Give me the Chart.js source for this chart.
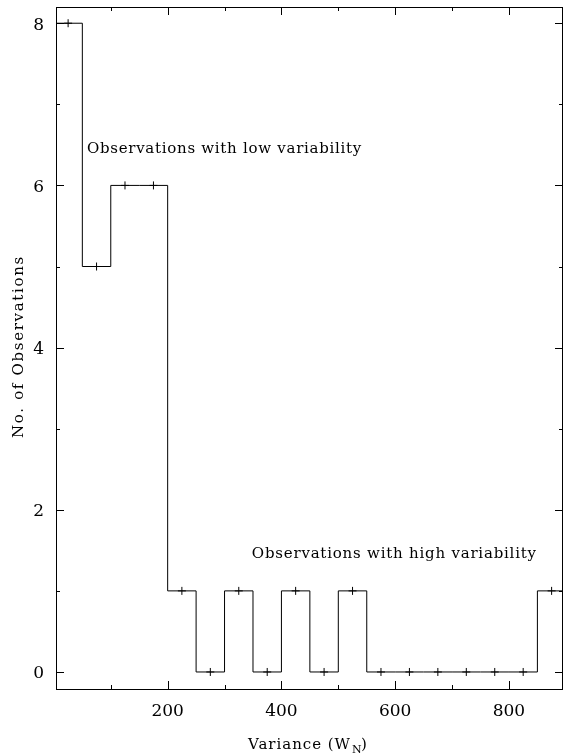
<!DOCTYPE html>
<html>
<head>
<meta charset="utf-8">
<script src="https://cdn.jsdelivr.net/npm/chart.js@4/dist/chart.umd.min.js"></script>
<style>
  html, body { margin: 0; padding: 0; background: #fff; }
  #wrap { width: 564px; height: 754px; }
</style>
</head>
<body>
<div id="wrap"><canvas id="histChart"></canvas></div>
<script>
// histogram bins (left edges) and counts
const binEdges = [0, 50, 100, 150, 200, 250, 300, 350, 400, 450, 500, 550, 600, 650, 700, 750, 800, 850];
const binWidth = 50;
const counts = [8, 5, 6, 6, 1, 0, 1, 0, 1, 0, 1, 0, 0, 0, 0, 0, 0, 1];

const xMajorTicks = [200, 400, 600, 800];
const xMinorTicks = [100, 300, 500, 700];
const yMajorTicks = [0, 2, 4, 6, 8];
const yMinorTicks = [1, 3, 5, 7];

const labelLow = "Observations with low variability";
const labelHigh = "Observations with high variability";

const FONT = "'DejaVu Serif', serif";

// step line: points at bin edges plus closing edge
var stepPoints = binEdges.map((e, i) => ({ x: e, y: counts[i] }));
stepPoints.push({ x: binEdges[binEdges.length - 1] + binWidth, y: counts[counts.length - 1] });

var centerPoints = binEdges.map((e, i) => ({ x: e + binWidth / 2, y: counts[i] }));

// draw text stretched with letter spacing to a given width
function spacedText(ctx, text, x, y, width) {
  ctx.letterSpacing = "0px";
  var w = ctx.measureText(text).width;
  var sp = (width - w) / text.length;
  ctx.letterSpacing = sp.toFixed(2) + "px";
  ctx.fillText(text, x, y);
  ctx.letterSpacing = "0px";
}

const framePlugin = {
  id: "frame",
  afterDatasetsDraw(chart) {
    const ctx = chart.ctx;
    const a = chart.chartArea;
    const xs = chart.scales.x;
    const ys = chart.scales.y;
    ctx.save();
    ctx.strokeStyle = "#000";
    ctx.lineWidth = 1;
    ctx.strokeRect(Math.round(a.left) + 0.5, Math.round(a.top) + 0.5,
      Math.round(a.right - a.left) - 1, Math.round(a.bottom - a.top));

    ctx.beginPath();
    function xTick(v, len) {
      var px = Math.round(xs.getPixelForValue(v)) + 0.5;
      ctx.moveTo(px, a.bottom); ctx.lineTo(px, a.bottom - len);
      ctx.moveTo(px, a.top); ctx.lineTo(px, a.top + len);
    }
    function yTick(v, len) {
      var py = Math.round(ys.getPixelForValue(v)) + 0.5;
      ctx.moveTo(a.left, py); ctx.lineTo(a.left + len, py);
      ctx.moveTo(a.right, py); ctx.lineTo(a.right - len, py);
    }
    xMajorTicks.forEach(v => xTick(v, 8));
    xMinorTicks.forEach(v => xTick(v, 4));
    yMajorTicks.forEach(v => yTick(v, 8));
    yMinorTicks.forEach(v => yTick(v, 4));
    ctx.stroke();

    ctx.fillStyle = "#000";

    // tick labels
    ctx.font = "17px " + FONT;
    ctx.textBaseline = "alphabetic";
    ctx.textAlign = "center";
    xMajorTicks.forEach(v => {
      ctx.fillText(String(v), xs.getPixelForValue(v), 716);
    });
    ctx.textAlign = "right";
    yMajorTicks.forEach(v => {
      ctx.fillText(String(v), 44, ys.getPixelForValue(v) + 6.5);
    });

    // annotations
    ctx.font = "15px " + FONT;
    ctx.textAlign = "left";
    spacedText(ctx, labelLow, xs.getPixelForValue(58), ys.getPixelForValue(6.4), 275);
    spacedText(ctx, labelHigh, xs.getPixelForValue(348), ys.getPixelForValue(1.41), 285);

    // x axis title with subscript
    var main1 = "Variance (W";
    var sub = "N";
    var main2 = ")";
    var x0 = 248;
    var base = 749;
    ctx.font = "15px " + FONT;
    spacedText(ctx, main1, x0, base, 103);
    ctx.font = "11px " + FONT;
    ctx.fillText(sub, x0 + 104, base + 4);
    ctx.font = "15px " + FONT;
    ctx.fillText(main2, x0 + 113, base);

    // y axis title
    ctx.save();
    ctx.translate(23, 347);
    ctx.rotate(-Math.PI / 2);
    ctx.textAlign = "left";
    ctx.font = "15px " + FONT;
    spacedText(ctx, "No. of Observations", -91, 0, 183);
    ctx.restore();

    ctx.restore();
  }
};

document.addEventListener("DOMContentLoaded", (event) => {
  var histChart = document.getElementById("histChart").getContext("2d");

  new Chart(histChart, {
    type: "line",
    data: {
      datasets: [
        {
          label: "histogram",
          data: stepPoints,
          stepped: "before",
          borderColor: "#000",
          borderWidth: 1,
          pointRadius: 0,
          fill: false,
        },
        {
          label: "bin centres",
          data: centerPoints,
          showLine: false,
          pointStyle: "cross",
          pointRadius: 4,
          borderColor: "#000",
          borderWidth: 1,
        },
      ],
    },
    options: {
      responsive: true,
      maintainAspectRatio: false,
      animation: false,
      layout: { autoPadding: false, padding: { top: 7, right: 1, left: 56, bottom: 65 } },
      plugins: {
        legend: { display: false },
        tooltip: { enabled: false },
      },
      scales: {
        x: {
          type: "linear",
          display: false,
          min: 3.7,
          max: 895,
        },
        y: {
          type: "linear",
          display: false,
          min: -0.21,
          max: 8.2,
        },
      },
    },
    plugins: [framePlugin],
  });
});
</script>
</body>
</html>
